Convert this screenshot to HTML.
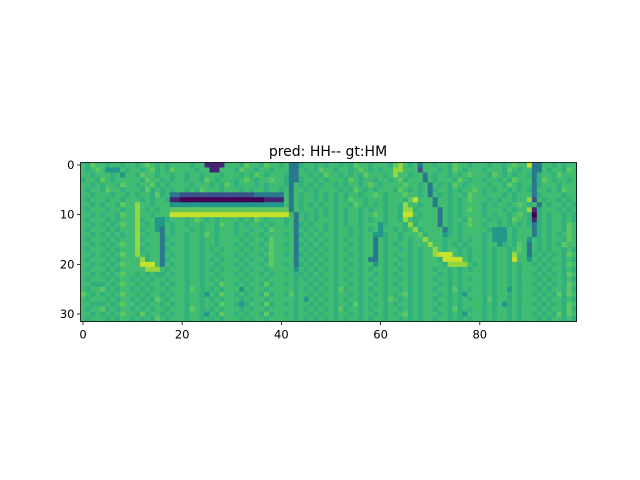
<!DOCTYPE html>
<html><head><meta charset="utf-8"><style>
html,body{margin:0;padding:0;background:#fff;}
svg{display:block;font-family:"DejaVu Sans","Liberation Sans",sans-serif;}
</style></head><body>
<svg id="chart" width="640" height="480" viewBox="0 0 640 480">
<rect x="0" y="0" width="640" height="480" fill="#fff"/>
<text x="328" y="156" font-size="14" text-anchor="middle" fill="#000">pred: HH-- gt:HM</text>
<g id="cells"></g>
<g id="axes"></g>
</svg>
<script>
const rowsData = [
"6576656656 6567656566 6656611116 6657665766 5633566565 6656576656 6657865636 6566576656 6656656766 9336656566",
"6567644465 6656756576 6665661166 6576656656 6633656576 6566567656 5668866626 6656576566 6566657656 6336566576",
"6656665646 6576656656 6566566656 6656576566 6533665657 6656565766 6568665663 6566565676 6657656566 5356657666",
"5665765666 6657665656 6566576566 6567656676 6533566565 6665765665 6656756663 6566657656 6566565766 6357656656",
"6656566576 6566756566 6656665657 6566656566 6536565656 6565665676 5666676656 3656576566 6656657656 6356665666",
"6566576656 6657565656 6565766656 6656566566 5636656566 6656576565 6665765656 3566565667 6565665656 5366565766",
"6656665665 6566575633 2222222222 2222233333 3636566565 6565665667 6566676656 3656566576 6566656566 6356666566",
"6566656656 6656566511 0000000000 0000000111 1636566565 6565766566 6566657966 6366565676 6656566566 8265665656",
"6656566576 6866566644 4444444444 4444444444 4636565656 6566576565 6566586656 6366565666 6565665676 5636566565",
"6566656656 6865656677 7777777777 7777777777 7736566565 6565665656 6566588566 6636565676 6566656566 8156665656",
"6656566576 6866566699 9999999999 9999999999 9963656565 6565665667 6566599656 6636565666 6565665676 5056566565",
"6566656566 6856644566 6567656566 6656576566 6563656566 6565665656 6566586566 6636566576 6656565766 5156566565",
"6656565676 6865644656 6566566576 6565665656 6563565665 6565665666 4566658566 6636565676 6566565656 5356566576",
"6566656566 6856643656 6656566566 6566566576 6663656565 6566565656 4665656856 6663565666 6654446566 6356566576",
"6656565656 6865663656 6566576566 6565665666 6563565656 6566565664 4566566675 6664565666 6564446566 6356565676",
"6566656566 6856663566 6566566566 6656566576 6663656565 6565665663 6566565668 6665665656 6564446566 4656566576",
"6656565676 6865663656 6566566566 6565665676 6563565656 6566565663 6565665666 8665656566 6566456576 3656565766",
"6566656566 6856663566 6566565656 6656566576 6663656565 6565665663 6566565656 6865665656 6565665676 3656566565",
"6656565676 6865663656 6566566566 6565665676 6563565656 6566565663 6565665656 6899965656 6565665866 3565656576",
"6566656566 6685663566 6566565656 6656566576 6663656565 6565665633 6566565656 6659999656 6565665966 4656566565",
"6656565676 6699963656 6566566566 6565665676 6563565656 6566565664 6565665656 6665888865 6565665656 6565656576",
"6566656566 6668886566 6566565656 6656566566 6664656565 6565665656 6566565656 6566565656 6565665656 6656566565",
"6656565676 6565655656 6566566566 6565665656 6565565656 6566565665 6565665656 6656565666 6565665656 6565656576",
"6566656566 5656566566 6566565656 6656566566 6665656565 6565665656 6566565656 6566565656 6565665656 6656566565",
"6655565676 6565665656 6566566576 6565665756 6565665656 6566565665 6565665656 6656565666 6565665656 6565656576",
"6566756566 5656566566 6576565656 6646566566 6665656565 6575665656 6566565656 6566575656 6565664656 6656566575",
"7656565676 6565665656 6566546576 6565665756 6575665656 6566565665 6565675656 6656565466 6565665656 6565657576",
"6566656566 5656576566 6566565656 6656566566 6665646565 6565665656 6576565656 6566565656 6575665656 6656566565",
"6655565676 6565665656 6566566576 6545665756 6565665656 6566575665 6565665656 6656565666 6565645656 6565656576",
"6566756566 5656566566 6576565656 6656566566 6665656565 6575665656 6566565656 6566575656 6565665656 6656566575",
"6656565676 6575665656 6566546576 6565665756 6565665656 6566565665 6565675656 6656565466 6565665656 6565657576",
"6566656566 5656576566 6566565656 6656566566 6665656565 6565665656 6566565656 6566565656 6565665656 6656566565"
];
const digitValues = [0.0, 0.1, 0.25, 0.4, 0.53, 0.64, 0.69, 0.75, 0.84, 0.92];
const xTicks = [0, 20, 40, 60, 80];
const yTicks = [0, 10, 20, 30];

const VIR = [[68,1,84],[72,40,120],[62,74,137],[49,104,142],[38,130,142],[31,158,137],[53,183,121],[109,205,89],[180,222,44],[253,231,37]];
function viridis(v){
  v=Math.max(0,Math.min(1,v));
  const p=v*9,i=Math.min(8,Math.floor(p)),f=p-i;
  const a=VIR[i],b=VIR[i+1];
  return 'rgb('+a.map((c,k)=>Math.round(c+(b[k]-c)*f)).join(',')+')';
}

const NS='http://www.w3.org/2000/svg';
const X0=80.5, Y0=162.5, W=496, H=159;
const grid = rowsData.map(r=>r.replace(/ /g,''));
const nRows = grid.length, nCols = grid[0].length;
const cw = W/nCols, ch = H/nRows;
function xPos(c){ return X0 + (c+0.5)*cw; }
function yPos(r){ return Y0 + (r+0.5)*ch; }

const cells=document.getElementById('cells');
grid.forEach((row,r)=>{
  for(let c=0;c<row.length;c++){
    const rect=document.createElementNS(NS,'rect');
    
    
    rect.setAttribute('x',(xPos(c)-cw/2).toFixed(2));
    rect.setAttribute('y',(yPos(r)-ch/2).toFixed(2));
    rect.setAttribute('width',(cw+0.4).toFixed(2));
    rect.setAttribute('height',(ch+0.4).toFixed(2));
    rect.setAttribute('fill',viridis(digitValues[+row[c]]));
    cells.appendChild(rect);
  }
});

const axes=document.getElementById('axes');
const frame=document.createElementNS(NS,'rect');


frame.setAttribute('x',X0);frame.setAttribute('y',Y0);
frame.setAttribute('width',W);frame.setAttribute('height',H);
frame.setAttribute('fill','none');frame.setAttribute('stroke','#000');frame.setAttribute('stroke-width','0.8');
axes.appendChild(frame);

xTicks.forEach(v=>{
  const x=xPos(v);
  const t=document.createElementNS(NS,'line');
  
  
  t.setAttribute('x1',x);t.setAttribute('x2',x);t.setAttribute('y1',Y0+H);t.setAttribute('y2',Y0+H+3.5);
  t.setAttribute('stroke','#000');t.setAttribute('stroke-width','0.8');
  axes.appendChild(t);
  const l=document.createElementNS(NS,'text');
  
  
  l.setAttribute('x',x);l.setAttribute('y',Y0+H+17);
  l.setAttribute('font-size','11.5');l.setAttribute('text-anchor','middle');
  l.textContent=v;
  axes.appendChild(l);
});
yTicks.forEach(v=>{
  const y=yPos(v);
  const t=document.createElementNS(NS,'line');
  
  
  t.setAttribute('x1',X0-3.5);t.setAttribute('x2',X0);t.setAttribute('y1',y);t.setAttribute('y2',y);
  t.setAttribute('stroke','#000');t.setAttribute('stroke-width','0.8');
  axes.appendChild(t);
  const l=document.createElementNS(NS,'text');
  
  
  l.setAttribute('x',X0-6);l.setAttribute('y',y+4);
  l.setAttribute('font-size','11.5');l.setAttribute('text-anchor','end');
  l.textContent=v;
  axes.appendChild(l);
});
</script>
</body></html>
